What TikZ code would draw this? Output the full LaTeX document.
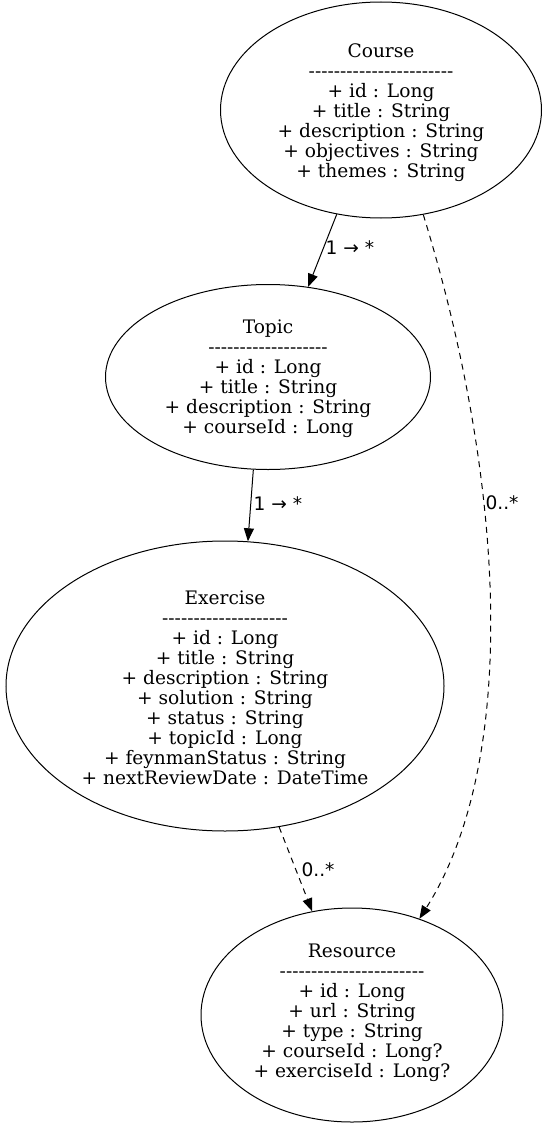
\documentclass[tikz,border=0pt]{standalone}
\usepackage{fontspec}
\setmainfont{DejaVu Serif}
\newfontfamily\lblfont{DejaVu Sans}
\usetikzlibrary{arrows.meta,shapes.geometric}
\newcommand\hyrow[1]{\foreach \i in {1,...,#1}{-}}
\tikzset{
  cls/.style={draw, ellipse, inner sep=0pt, line width=1pt},
  clstext/.style={align=center, inner sep=0pt, font=\fontsize{18.6}{20}\selectfont},
  rel/.style={-{Triangle[length=13pt,width=10pt]}, line width=1pt},
  dep/.style={rel, dash pattern=on 6pt off 5pt},
  lbl/.style={font=\lblfont\fontsize{18.6}{20}\selectfont, inner sep=1pt}
}
\begin{document}
\begin{tikzpicture}[x=1pt,y=-1pt]
\useasboundingbox (0,0) rectangle (550,1124);
\node[cls, minimum width=321pt, minimum height=216pt] (course) at (381,110) {};
\node[clstext] (course-t) at ([yshift=-2.5pt]course.center)
  {Course\\\hyrow{23}\\+ id : Long\\+ title : String\\+ description : String\\+ objectives : String\\+ themes : String};
\node[cls, minimum width=325pt, minimum height=185pt] (topic) at (268,377) {};
\node[clstext] (topic-t) at ([yshift=-2pt]topic.center)
  {Topic\\\hyrow{19}\\+ id : Long\\+ title : String\\+ description : String\\+ courseId : Long};
\node[cls, minimum width=438pt, minimum height=290pt] (exercise) at (225,686) {};
\node[clstext] (exercise-t) at ([yshift=-1.5pt]exercise.center)
  {Exercise\\\hyrow{20}\\+ id : Long\\+ title : String\\+ description : String\\+ solution : String\\+ status : String\\+ topicId : Long\\+ feynmanStatus : String\\+ nextReviewDate : DateTime};
\node[cls, minimum width=302pt, minimum height=214pt] (resource) at (352,1015) {};
\node[clstext] (resource-t) at ([yshift=2.5pt]resource.center)
  {Resource\\\hyrow{23}\\+ id : Long\\+ url : String\\+ type : String\\+ courseId : Long?\\+ exerciseId : Long?};
\draw[rel] (course.247.5) -- (topic.66.1);
\node[lbl] (l1) at (350,248) {1 → *};
\draw[rel] (topic.261.4) -- (exercise.81.7);
\node[lbl] (l2) at (278,504) {1 → *};
\draw[dep] (course.292.9) .. controls (505,480) and (520,760) .. (resource.55.2);
\node[lbl] (l3) at (502,503) {0..*};
\draw[dep] (exercise.291.8) -- (resource.111.3);
\node[lbl] (l4) at (318,870) {0..*};
\end{tikzpicture}
\end{document}
